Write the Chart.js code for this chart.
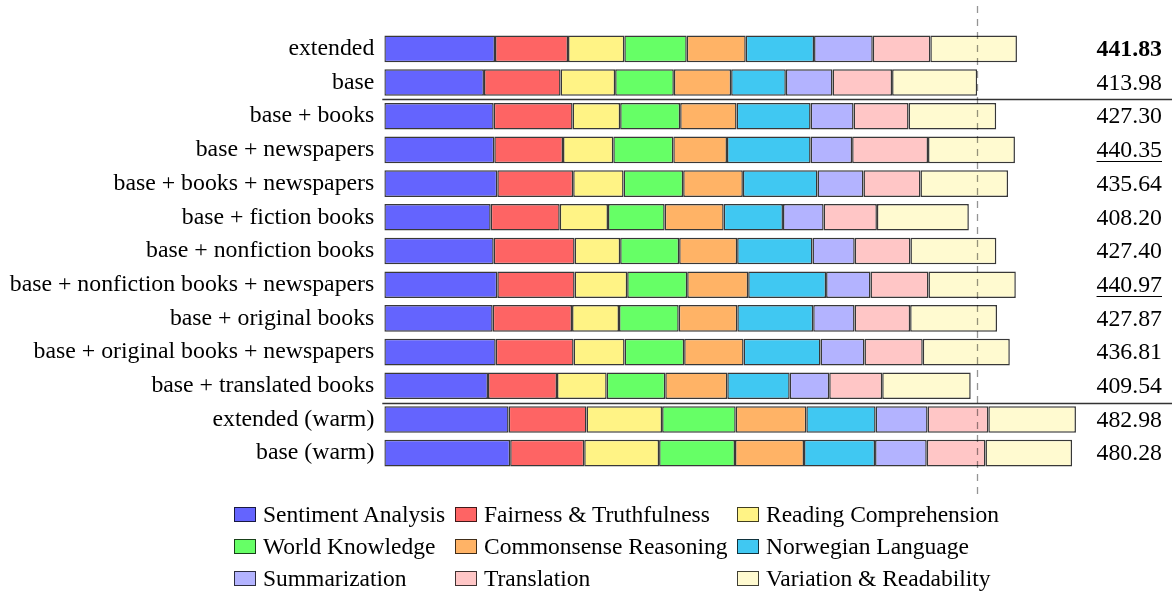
<!DOCTYPE html>
<html>
<head>
<meta charset="utf-8">
<script src="https://cdn.jsdelivr.net/npm/chart.js@4.4.1/dist/chart.umd.min.js"></script>
<style>
  html, body { margin: 0; padding: 0; background: #fff; }
  #wrap { position: relative; width: 1172px; height: 592px; }
  #c { position: absolute; left: 0; top: 0; }
  #legend {
    position: absolute; left: 234px; top: 498px;
    display: grid; grid-template-columns: 221px 282px auto;
    font-family: "Liberation Serif", "Times New Roman", serif; font-size: 23.5px; color: #000;
  }
  .item { display: flex; align-items: center; height: 32px; white-space: nowrap; }
  .box { width: 22px; height: 15px; box-sizing: border-box; border: 1.5px solid rgba(0,0,0,0.75); margin-right: 7px; }
</style>
</head>
<body>
<div id="wrap">
  <canvas id="c" width="1172" height="592"></canvas>
  <div id="legend"></div>
</div>
<script>
// ---- data ----
const categories = [
  "extended", "base", "base + books", "base + newspapers", "base + books + newspapers",
  "base + fiction books", "base + nonfiction books", "base + nonfiction books + newspapers",
  "base + original books", "base + original books + newspapers", "base + translated books",
  "extended (warm)", "base (warm)"
];
const seriesNames = [
  "Sentiment Analysis", "Fairness & Truthfulness", "Reading Comprehension",
  "World Knowledge", "Commonsense Reasoning", "Norwegian Language",
  "Summarization", "Translation", "Variation & Readability"
];
const sentiment     = [77.3, 69.6, 76.4, 76.8, 78.9, 74.3, 76.4, 78.9, 75.7, 77.8, 72.4, 86.8, 87.9];
const fairness      = [51.0, 53.5, 55.1, 48.0, 53.0, 48.2, 56.5, 54.0, 55.4, 54.4, 48.2, 54.4, 51.7];
const reading       = [39.3, 38.1, 33.2, 35.1, 35.2, 33.7, 31.8, 36.7, 32.8, 35.6, 34.7, 52.8, 52.3];
const world         = [43.6, 41.0, 41.9, 41.9, 41.6, 39.6, 41.2, 41.9, 41.7, 41.6, 40.9, 51.4, 53.0];
const commonsense   = [41.2, 40.0, 39.4, 37.5, 41.7, 41.2, 40.5, 42.6, 40.9, 41.5, 43.3, 49.3, 48.2];
const norwegian     = [47.7, 38.2, 51.7, 58.4, 52.1, 41.4, 52.6, 54.4, 53.0, 53.7, 43.6, 48.4, 49.6];
const summarization = [41.0, 32.6, 30.0, 29.0, 32.1, 28.4, 29.5, 31.0, 28.9, 30.7, 27.6, 36.3, 36.1];
const translation   = [40.2, 41.6, 38.4, 53.0, 39.8, 37.2, 38.9, 40.5, 38.8, 40.7, 37.0, 42.4, 41.0];
const variation     = [60.5, 59.4, 61.2, 60.7, 61.2, 64.2, 60.0, 61.0, 60.7, 60.8, 61.8, 61.2, 60.5];
const totals = [441.83, 413.98, 427.30, 440.35, 435.64, 408.20, 427.40, 440.97, 427.87, 436.81, 409.54, 482.98, 480.28];
const boldRows = [0];
const underlineRows = [3, 7];
const separatorsAfter = [1, 10];
const referenceRow = 1; // dashed line at the "base" total

// ---- styles ----
const colors = ["#6464fe", "#fe6464", "#fff385", "#66ff66", "#ffb366", "#40c8f2", "#b3b3ff", "#ffc6c6", "#fffad0"];
const seriesValues = [sentiment, fairness, reading, world, commonsense, norwegian, summarization, translation, variation];
const FONT = '"Liberation Serif", "Times New Roman", serif';
const FSIZE = 23.8;

const datasets = seriesNames.map((name, i) => ({
  label: name,
  data: seriesValues[i],
  backgroundColor: colors[i],
  borderColor: "rgba(0,0,0,0.78)",
  borderWidth: 1.5,
  borderSkipped: false,
  barPercentage: 0.79,
  categoryPercentage: 1.0
}));

const overlay = {
  id: "overlay",
  afterDatasetsDraw(chart) {
    const ctx = chart.ctx;
    const x = chart.scales.x, y = chart.scales.y;
    const area = chart.chartArea;
    ctx.save();
    // separator lines
    ctx.strokeStyle = "#333";
    ctx.lineWidth = 1.3;
    separatorsAfter.forEach(i => {
      const yy = Math.round((y.getPixelForValue(i) + y.getPixelForValue(i + 1)) / 2) + 0.5;
      ctx.beginPath();
      ctx.moveTo(area.left - 2, yy);
      ctx.lineTo(chart.width, yy);
      ctx.stroke();
    });
    // dashed reference line
    const xr = Math.round(x.getPixelForValue(totals[referenceRow])) + 0.5;
    ctx.strokeStyle = "rgba(0,0,0,0.42)";
    ctx.lineWidth = 1.3;
    ctx.setLineDash([7, 6]);
    ctx.beginPath();
    ctx.moveTo(xr, 6);
    ctx.lineTo(xr, 500);
    ctx.stroke();
    ctx.setLineDash([]);
    // totals
    ctx.fillStyle = "#000";
    ctx.textAlign = "right";
    ctx.textBaseline = "middle";
    const right = 1162;
    totals.forEach((t, i) => {
      const bold = boldRows.includes(i);
      ctx.font = (bold ? "bold " : "") + FSIZE + "px " + FONT;
      const yy = y.getPixelForValue(i) + 1;
      const s = t.toFixed(2);
      ctx.fillText(s, right, yy);
      if (underlineRows.includes(i)) {
        const w = ctx.measureText(s).width;
        ctx.strokeStyle = "#000";
        ctx.lineWidth = 1;
        ctx.beginPath();
        ctx.moveTo(right - w, Math.round(yy + 10) + 0.5);
        ctx.lineTo(right, Math.round(yy + 10) + 0.5);
        ctx.stroke();
      }
    });
    ctx.restore();
  }
};

new Chart(document.getElementById("c"), {
  type: "bar",
  data: { labels: categories, datasets },
  options: {
    indexAxis: "y",
    responsive: false,
    animation: false,
    layout: { padding: { left: 0, right: 71.7, top: 32, bottom: 122 } },
    plugins: { legend: { display: false }, tooltip: { enabled: false } },
    scales: {
      x: { stacked: true, min: 0, max: 500, display: false },
      y: {
        stacked: true,
        grid: { display: false, drawTicks: false },
        border: { display: false },
        ticks: { color: "#000", padding: 10, font: { family: FONT, size: FSIZE } },
        afterFit(scale) { scale.width = 384.3; }
      }
    }
  },
  plugins: [overlay]
});

// legend (HTML, real text)
const leg = document.getElementById("legend");
seriesNames.forEach((name, i) => {
  const d = document.createElement("div");
  d.className = "item";
  const b = document.createElement("span");
  b.className = "box";
  b.style.background = colors[i];
  const t = document.createElement("span");
  t.textContent = name;
  d.appendChild(b); d.appendChild(t);
  leg.appendChild(d);
});
</script>
</body>
</html>
